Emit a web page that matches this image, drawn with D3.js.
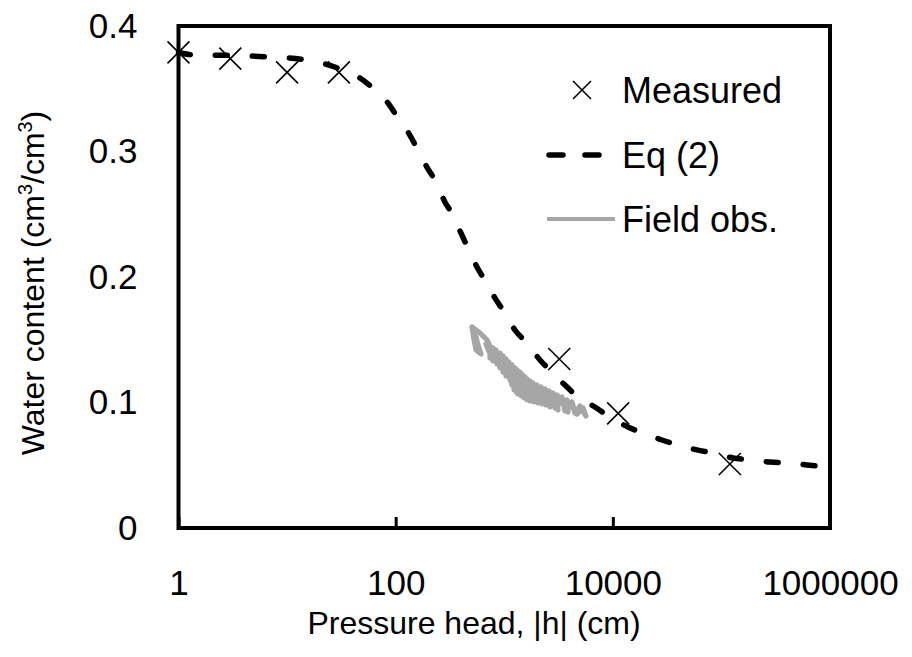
<!DOCTYPE html>
<html><head><meta charset="utf-8">
<script src="https://cdn.jsdelivr.net/npm/d3@7"></script>
<style>body{margin:0;background:#fff}svg{display:block}text{font-family:"Liberation Sans",Arial,sans-serif;fill:#000}</style>
</head><body><svg id="c" width="912" height="657"></svg>
<script>
// ---- data ----
const xTicks = [1, 100, 10000, 1000000];
const xTickLabels = ["1", "100", "10000", "1000000"];
const yTicks = [0, 0.1, 0.2, 0.3, 0.4];
const yTickLabels = ["0", "0.1", "0.2", "0.3", "0.4"];

const measuredH = [1, 3.0, 10, 30, 3210, 11200, 119700];
const measuredTheta = [0.379, 0.374, 0.363, 0.363, 0.1347, 0.0913, 0.051];

const eqH = [1, 1.42, 3.18, 6.96, 15.3, 32.7, 46.9, 64.5, 85, 105, 135, 160, 194, 235, 284, 337, 399, 463, 561, 678, 820, 1014, 1254, 1617, 2133, 2750, 3622, 4773, 6843, 9400, 13770, 18930, 28330, 39740, 59450, 83500, 127600, 190900, 279500, 409000, 612000, 1000000];
const eqTheta = [0.3789, 0.3769, 0.3765, 0.3753, 0.3729, 0.3649, 0.3586, 0.3490, 0.3386, 0.3267, 0.3131, 0.3012, 0.2876, 0.2757, 0.2598, 0.2494, 0.2351, 0.2231, 0.2080, 0.1960, 0.1833, 0.1713, 0.1578, 0.1474, 0.1339, 0.1243, 0.1139, 0.1044, 0.0964, 0.0884, 0.0805, 0.0757, 0.0701, 0.0661, 0.0622, 0.0598, 0.0558, 0.0542, 0.0526, 0.0518, 0.0502, 0.0486];

// field observations (pressure head cm, water content): wetting/drying loops
const fieldH = [505, 527, 550, 611, 573, 550, 505, 598, 694, 739, 739, 840, 858, 974, 974, 1106, 1130, 1256, 1230, 1397, 1339, 1554, 1521, 1727, 1727, 2003, 2046, 2374, 2424, 2813, 2935, 3404, 3627, 4209, 4484, 4985, 5662,
  5314, 4679, 3784, 3866, 3061, 3127, 2584, 2639, 2181, 2228, 1840, 1880, 1620, 1620, 1457, 1427, 1311, 1283, 1179, 1179, 1038, 1038, 914, 914, 788, 788, 679];
const fieldTheta = [0.1602, 0.1498, 0.1418, 0.1386, 0.1458, 0.1522, 0.1602, 0.1554, 0.1498, 0.1450, 0.1355, 0.1418, 0.1307, 0.1371, 0.1243, 0.1323, 0.1179, 0.1275, 0.1100, 0.1243, 0.1068, 0.1203, 0.1036, 0.1171, 0.1012, 0.1139, 0.0996, 0.1108, 0.0980, 0.1076, 0.0956, 0.1044, 0.0932, 0.1004, 0.0916, 0.0972, 0.0892,
  0.0956, 0.0908, 0.1020, 0.0924, 0.1060, 0.0940, 0.1092, 0.0964, 0.1124, 0.0988, 0.1155, 0.1004, 0.1187, 0.1020, 0.1227, 0.1052, 0.1259, 0.1084, 0.1299, 0.1139, 0.1347, 0.1211, 0.1394, 0.1275, 0.1434, 0.1331, 0.1466];

const legendLabels = ["Measured", "Eq (2)", "Field obs."];

// ---- layout ----
const L = 178.5, R = 830, T = 26, B = 528;
const svg = d3.select("#c");
const x = d3.scaleLog().domain([1, 1e6]).range([L, R]);
const y = d3.scaleLinear().domain([0, 0.4]).range([B, T]);
const FS_TICK = 35, FS_LEG = 36, FS_TITLE = 32;
const GRAY = "#a6a6a6";

// field obs
const fieldPts = fieldH.map((h, i) => [h, fieldTheta[i]]);
svg.append("path").datum(fieldPts)
  .attr("d", d3.line().x(d => x(d[0])).y(d => y(d[1])))
  .attr("fill", "none").attr("stroke", GRAY).attr("stroke-width", 5.2)
  .attr("stroke-linejoin", "round").attr("stroke-linecap", "round");

// Eq (2)
const eqPts = eqH.map((h, i) => [h, eqTheta[i]]);
svg.append("path").datum(eqPts)
  .attr("d", d3.line().curve(d3.curveMonotoneX).x(d => x(d[0])).y(d => y(d[1])))
  .attr("fill", "none").attr("stroke", "#000").attr("stroke-width", 5.5)
  .attr("stroke-dasharray", "12,25").attr("stroke-linecap", "round");

// measured
const S = 11;
const meas = measuredH.map((h, i) => [h, measuredTheta[i]]);
svg.append("g").selectAll("path").data(meas).enter().append("path")
  .attr("d", d => { const cx = x(d[0]), cy = y(d[1]);
    return `M${cx-S},${cy-S}L${cx+S},${cy+S}M${cx-S},${cy+S}L${cx+S},${cy-S}`; })
  .attr("stroke", "#000").attr("stroke-width", 1.6).attr("fill", "none");

// axes
const xa = svg.append("g").attr("transform", `translate(0,${B})`)
  .call(d3.axisBottom(x).tickValues(xTicks).tickFormat((d, i) => xTickLabels[i]).tickSizeInner(-11).tickSizeOuter(0).tickPadding(42));
xa.select(".domain").remove();
xa.selectAll("line").attr("stroke", "#000").attr("stroke-width", 3);
xa.selectAll("text").attr("font-size", FS_TICK).attr("font-family", null);

const ya = svg.append("g").attr("transform", `translate(${L},0)`)
  .call(d3.axisLeft(y).tickValues(yTicks).tickFormat((d, i) => yTickLabels[i]).tickSize(0).tickPadding(41));
ya.select(".domain").remove();
ya.selectAll("text").attr("font-size", FS_TICK).attr("font-family", null);

// frame
svg.append("rect").attr("x", L).attr("y", T).attr("width", R - L).attr("height", B - T)
  .attr("fill", "none").attr("stroke", "#000").attr("stroke-width", 4);

// titles
svg.append("text").attr("x", 474).attr("y", 634).attr("text-anchor", "middle")
  .attr("font-size", FS_TITLE).text("Pressure head, |h| (cm)");
const yt = svg.append("text").attr("transform", `translate(44,${(T + B) / 2 + 6}) rotate(-90)`)
  .attr("text-anchor", "middle").attr("font-size", FS_TITLE);
yt.append("tspan").text("Water content (cm");
yt.append("tspan").attr("font-size", FS_TITLE * 0.62).attr("dy", -12).text("3");
yt.append("tspan").attr("dy", 12).text("/cm");
yt.append("tspan").attr("font-size", FS_TITLE * 0.62).attr("dy", -12).text("3");
yt.append("tspan").attr("dy", 12).text(")");

// legend
const lg = svg.append("g");
const lx = 622, ly = [90, 155, 219];
lg.append("path").attr("d", `M${582-9},${ly[0]-9}L${582+9},${ly[0]+9}M${582-9},${ly[0]+9}L${582+9},${ly[0]-9}`)
  .attr("stroke", "#000").attr("stroke-width", 1.6);
lg.append("line").attr("x1", 549).attr("x2", 603).attr("y1", ly[1]).attr("y2", ly[1])
  .attr("stroke", "#000").attr("stroke-width", 5.5).attr("stroke-dasharray", "14,22").attr("stroke-linecap", "round");
lg.append("line").attr("x1", 547).attr("x2", 615).attr("y1", ly[2]).attr("y2", ly[2])
  .attr("stroke", GRAY).attr("stroke-width", 4);
legendLabels.forEach((t, i) => lg.append("text").attr("x", lx).attr("y", ly[i]).attr("dy", "0.35em")
  .attr("font-size", FS_LEG).text(t));
</script></body></html>
